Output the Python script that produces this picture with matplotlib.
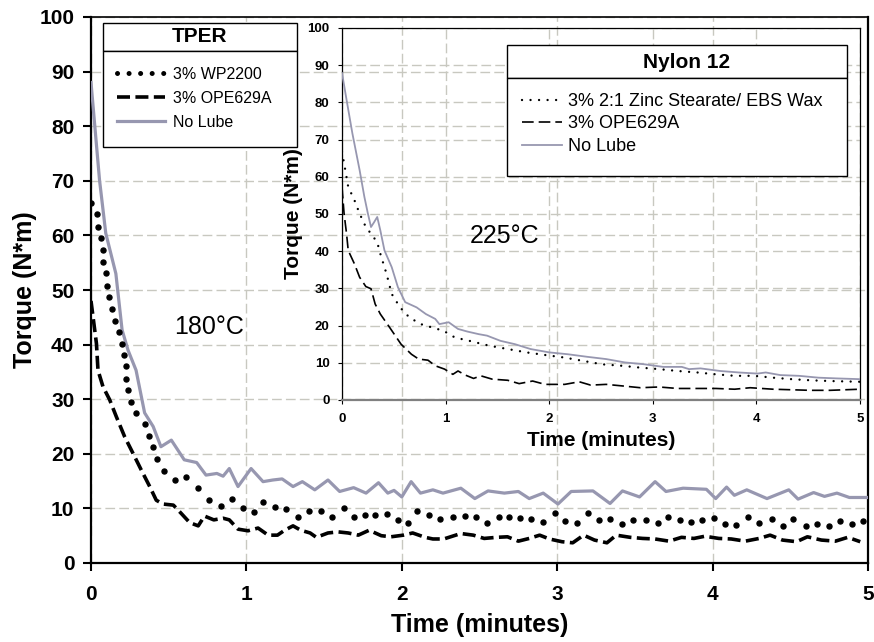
import matplotlib
matplotlib.use("Agg")
import matplotlib.pyplot as plt
from matplotlib.lines import Line2D
from matplotlib.patches import Rectangle

plt.rcParams["font.family"] = ["Liberation Sans", "DejaVu Sans"]

# TPER, 180 C (main chart)
lube_t = [0, 0.055, 0.095, 0.16, 0.2, 0.238, 0.29, 0.345, 0.40, 0.45, 0.517, 0.60, 0.68, 0.74, 0.81,
          0.85, 0.89, 0.946, 1.03, 1.107, 1.17, 1.23, 1.30, 1.36, 1.44, 1.525, 1.60, 1.69, 1.77, 1.85,
          1.91, 1.95, 2.0, 2.06, 2.12, 2.20, 2.265, 2.38, 2.47, 2.555, 2.66, 2.75, 2.82, 2.91, 3.005,
          3.09, 3.23, 3.34, 3.42, 3.53, 3.63, 3.70, 3.81, 3.96, 4.02, 4.09, 4.14, 4.22, 4.35, 4.49,
          4.55, 4.65, 4.72, 4.80, 4.88, 5.0]
lube_y = [88, 70.1, 60.4, 53, 42.7, 39, 35.3, 27.5, 25, 21.3, 22.5, 18.9, 18.4, 16.1, 16.4,
          15.9, 17.3, 14.0, 17.3, 14.9, 15.2, 15.4, 14.0, 14.9, 13.4, 15.2, 13.1, 13.8, 12.8, 14.7,
          12.8, 13.3, 12.1, 14.9, 12.8, 13.4, 12.8, 13.7, 11.8, 13.2, 12.8, 13.1, 11.8, 12.8, 10.8,
          13.1, 13.2, 10.9, 13.2, 12.1, 14.9, 13.1, 13.7, 13.5, 11.8, 13.9, 12.4, 13.4, 11.8, 13.4,
          11.7, 12.9, 12.2, 12.8, 12.0, 12.0]

wp_t = [0, 0.04, 0.045, 0.067, 0.077, 0.08, 0.095, 0.103, 0.116, 0.138, 0.155, 0.18, 0.20, 0.21,
        0.223, 0.228, 0.24, 0.255, 0.288, 0.345, 0.373, 0.40, 0.427, 0.468, 0.538, 0.614, 0.69,
        0.76, 0.835, 0.907, 0.978, 1.05, 1.108, 1.182, 1.257, 1.33, 1.40, 1.477, 1.55, 1.626, 1.69,
        1.76, 1.83, 1.905, 1.976, 2.04, 2.10, 2.173, 2.244, 2.33, 2.405, 2.48, 2.55, 2.625, 2.69,
        2.76, 2.83, 2.91, 2.985, 3.05, 3.125, 3.20, 3.27, 3.34, 3.42, 3.49, 3.57, 3.65, 3.71, 3.79,
        3.86, 3.93, 4.01, 4.08, 4.15, 4.23, 4.30, 4.38, 4.45, 4.52, 4.60, 4.67, 4.75, 4.82, 4.90, 4.97]
wp_y = [65.9, 63.9, 61.6, 59.5, 57.3, 55.2, 53.1, 50.8, 48.8, 46.6, 44.4, 42.3, 40.2, 38.1,
        36.0, 33.7, 31.7, 29.5, 27.4, 25.5, 23.3, 21.2, 19.0, 16.8, 15.2, 15.8, 13.7,
        11.5, 10.4, 11.8, 10.0, 9.4, 11.2, 10.3, 9.8, 8.5, 9.6, 9.6, 8.4, 10.1, 8.4,
        8.8, 8.8, 8.9, 7.9, 7.4, 9.6, 8.8, 8.1, 8.5, 8.6, 8.5, 7.4, 8.5, 8.5,
        8.2, 8.1, 7.6, 9.2, 7.7, 7.4, 9.1, 7.9, 8.0, 7.1, 7.9, 7.9, 7.4, 8.5, 7.9,
        7.6, 7.9, 8.2, 7.1, 7.0, 8.4, 7.4, 8.0, 6.8, 8.0, 6.8, 7.1, 6.8, 7.7, 7.1, 7.7]

ope_t = [0, 0.035, 0.045, 0.077, 0.12, 0.163, 0.217, 0.27, 0.324, 0.378, 0.42, 0.463, 0.53, 0.58,
         0.635, 0.69, 0.73, 0.79, 0.85, 0.89, 0.946, 1.01, 1.075, 1.14, 1.20, 1.246, 1.30, 1.35,
         1.41, 1.45, 1.525, 1.59, 1.655, 1.72, 1.79, 1.868, 1.93, 2.01, 2.07, 2.15, 2.20, 2.27,
         2.38, 2.46, 2.53, 2.61, 2.68, 2.75, 2.82, 2.887, 2.95, 3.03, 3.10, 3.17, 3.24, 3.32, 3.38,
         3.47, 3.55, 3.63, 3.72, 3.80, 3.88, 3.95, 4.04, 4.12, 4.21, 4.30, 4.37, 4.45, 4.54, 4.61,
         4.70, 4.79, 4.87, 4.95]
ope_y = [48, 40.2, 35.3, 32.3, 29.9, 26.8, 23.1, 20.1, 17.0, 14.0, 11.5, 10.8, 10.6, 9.1,
         7.4, 6.8, 8.6, 7.9, 8.2, 7.9, 6.2, 5.9, 6.4, 5.1, 5.1, 6.0, 6.8, 6.0,
         5.5, 4.7, 5.5, 5.7, 5.5, 5.1, 6.0, 5.0, 4.8, 5.1, 5.5, 4.7, 4.4, 4.4,
         5.4, 5.1, 4.5, 4.7, 4.8, 4.0, 4.5, 5.1, 4.4, 3.9, 3.7, 5.1, 4.2, 3.7, 5.1,
         4.7, 4.5, 4.4, 4.0, 4.7, 4.5, 4.9, 4.5, 4.4, 4.0, 4.5, 5.1, 4.2, 3.9, 4.8,
         4.2, 4.0, 4.7, 3.9]

# Nylon 12, 225 C (inset)
n_lube_t = [0, 0.044, 0.1, 0.17, 0.216, 0.25, 0.28, 0.31, 0.34, 0.37, 0.41, 0.48, 0.54, 0.61, 0.72,
            0.81, 0.90, 0.94, 1.03, 1.12, 1.21, 1.32, 1.40, 1.53, 1.67, 1.82, 2.0, 2.18, 2.37, 2.55,
            2.73, 2.92, 3.10, 3.28, 3.35, 3.46, 3.65, 3.83, 4.01, 4.09, 4.23, 4.41, 4.6, 4.78, 5.0]
n_lube_y = [87.9, 80.7, 71.7, 61.8, 54.6, 50.1, 46.5, 47.8, 49.2, 45.6, 40.2, 35.7, 30.3, 26.3, 24.9,
            23.1, 21.8, 20.4, 20.9, 19.1, 18.4, 17.7, 17.3, 15.9, 15.0, 13.7, 12.8, 12.3, 11.6, 11.0,
            10.1, 9.6, 8.9, 8.9, 8.3, 8.5, 7.8, 7.4, 7.1, 7.4, 6.7, 6.5, 6.0, 5.8, 5.6]

zinc_t = [0, 0.026, 0.06, 0.12, 0.17, 0.23, 0.28, 0.34, 0.37, 0.43, 0.48, 0.56, 0.65, 0.76, 0.87,
          0.98, 1.09, 1.23, 1.42, 1.60, 1.78, 1.96, 2.15, 2.33, 2.51, 2.70, 2.88, 3.06, 3.24, 3.43,
          3.61, 3.79, 3.98, 4.16, 4.34, 4.52, 4.71, 5.0]
zinc_y = [66.7, 62.7, 57.3, 53.7, 50.1, 46.5, 44.7, 42.4, 39.3, 33.9, 28.5, 24.9, 22.2, 20.4, 19.5,
          18.6, 16.8, 15.9, 14.6, 13.7, 12.8, 12.1, 11.4, 10.5, 9.6, 9.2, 8.7, 8.3, 7.8, 7.4,
          6.9, 6.5, 6.5, 6.0, 5.6, 5.3, 5.1, 4.9]

n_ope_t = [0, 0.02, 0.044, 0.06, 0.12, 0.17, 0.23, 0.28, 0.32, 0.37, 0.46, 0.57, 0.67, 0.74, 0.83,
           0.90, 0.99, 1.07, 1.12, 1.19, 1.27, 1.34, 1.45, 1.60, 1.71, 1.84, 1.96, 2.15, 2.29, 2.40,
           2.55, 2.70, 2.88, 3.06, 3.24, 3.43, 3.61, 3.79, 3.94, 4.16, 4.52, 4.71, 5.0]
n_ope_y = [57.3, 50.1, 44.7, 40.2, 36.6, 33.0, 30.5, 29.9, 25.8, 23.1, 19.5, 15.0, 12.3, 11.0, 10.7,
           9.2, 8.3, 6.9, 7.8, 6.7, 5.8, 6.5, 5.6, 5.3, 4.4, 5.1, 4.2, 4.2, 4.9, 4.0,
           4.2, 3.8, 3.3, 3.5, 3.1, 3.1, 3.1, 2.9, 3.3, 2.9, 2.6, 2.6, 2.9]

gray = "#9797b0"
gridcol = "#c8c8c0"
W, H = 874, 642


def fr(x, y):
    # pixel (from top-left) -> figure fraction
    return x / W, 1 - y / H


def box(ax, x0, y0, x1, y1):
    fx, fy = fr(x0, y1)
    r = Rectangle((fx, fy), (x1 - x0) / W, (y1 - y0) / H, transform=fig.transFigure,
                  facecolor="white", edgecolor="black", lw=1.0, clip_on=False, zorder=6)
    ax.add_artist(r)


fig = plt.figure(figsize=(8.74, 6.42), dpi=100)

ax = fig.add_axes([91 / W, 1 - 563 / H, (868 - 91) / W, (563 - 17) / H])
ax.plot(lube_t, lube_y, color=gray, lw=2.3, zorder=3)
ax.plot(wp_t, wp_y, ls="none", marker="o", ms=3.6, color="black", zorder=4)
ax.plot(ope_t, ope_y, color="black", lw=2.6, ls=(0, (3.6, 1.5)), zorder=4)
ax.set_xlim(0, 5)
ax.set_ylim(0, 100)
ax.set_xticks(range(6))
ax.set_yticks(range(0, 101, 10))
ax.grid(color=gridcol, ls=(0, (7, 3)), lw=1)
ax.tick_params(direction="out", length=6, width=1.5, labelsize=15, pad=6)
ax.tick_params(axis="x", pad=10)
for lab in ax.get_xticklabels() + ax.get_yticklabels():
    lab.set_fontweight("bold")
for s in ["left", "bottom", "right"]:
    ax.spines[s].set_linewidth(1.6)
ax.spines["top"].set_linewidth(1.2)
ax.set_xlabel("Time (minutes)", fontsize=18, fontweight="bold", labelpad=6)
ax.set_ylabel("Torque (N*m)", fontsize=18, fontweight="bold", labelpad=2)
ax.text(0.76, 43.2, "180°C", fontsize=18, ha="center", va="center")

# TPER legend
box(ax, 103, 23, 297, 51)
box(ax, 103, 51, 297, 147)
fig.text(*fr(200, 37), "TPER", fontsize=15, fontweight="bold", ha="center", va="center", zorder=7)
h1 = [Line2D([], [], color="black", lw=3.6, ls=(0, (0.01, 2.3)), dash_capstyle="round"),
      Line2D([], [], color="black", lw=2.6, ls=(0, (3.6, 1.5))),
      Line2D([], [], color=gray, lw=2.3)]
leg = ax.legend(h1, ["3% WP2200", "3% OPE629A", "No Lube"], loc="upper left",
                bbox_to_anchor=fr(117, 67), bbox_transform=fig.transFigure, frameon=False,
                fontsize=11.5, handlelength=3.0, handletextpad=0.5, labelspacing=0.56,
                borderpad=0, borderaxespad=0)
leg.set_zorder(8)

# inset
ax2 = fig.add_axes([342 / W, 1 - 400 / H, (860 - 342) / W, (400 - 28) / H])
ax2.patch.set_alpha(0)
ax2.plot(n_lube_t, n_lube_y, color=gray, lw=1.3, zorder=3)
ax2.plot(zinc_t, zinc_y, color="black", lw=1.7, ls=(0, (0.01, 3.6)), dash_capstyle="round", zorder=4)
ax2.plot(n_ope_t, n_ope_y, color="black", lw=1.2, ls=(0, (7, 3)), zorder=4)
ax2.set_xlim(0, 5)
ax2.set_ylim(0, 100)
ax2.set_xticks(range(6))
ax2.set_yticks(range(0, 101, 10))
ax2.grid(color=gridcol, ls=(0, (7, 3)), lw=1)
ax2.tick_params(direction="out", length=3, width=0.8, labelsize=9.5, pad=6)
for lab in ax2.get_xticklabels() + ax2.get_yticklabels():
    lab.set_fontweight("bold")
ax2.spines["bottom"].set_color("#808080")
ax2.spines["bottom"].set_linewidth(1.6)
for s in ["left", "top", "right"]:
    ax2.spines[s].set_linewidth(0.9)
ax2.set_xlabel("Time (minutes)", fontsize=15, fontweight="bold", labelpad=5)
ax2.set_ylabel("Torque (N*m)", fontsize=15, fontweight="bold", labelpad=3)
ax2.text(1.57, 44, "225°C", fontsize=18, ha="center", va="center")

# Nylon legend
box(ax2, 507, 45, 847, 78)
box(ax2, 507, 78, 847, 176)
fig.text(*fr(687, 62), "Nylon 12", fontsize=15, fontweight="bold", ha="center", va="center", zorder=7)
h2 = [Line2D([], [], color="black", lw=1.7, ls=(0, (0.01, 3.6)), dash_capstyle="round"),
      Line2D([], [], color="black", lw=1.2, ls=(0, (7, 3))),
      Line2D([], [], color=gray, lw=1.3)]
leg2 = ax2.legend(h2, ["3% 2:1 Zinc Stearate/ EBS Wax", "3% OPE629A", "No Lube"], loc="upper left",
                  bbox_to_anchor=fr(522, 93), bbox_transform=fig.transFigure, frameon=False,
                  fontsize=13, handlelength=2.2, handletextpad=0.35, labelspacing=0.3,
                  borderpad=0, borderaxespad=0)
leg2.set_zorder(8)

fig.savefig("out.png", dpi=100)
